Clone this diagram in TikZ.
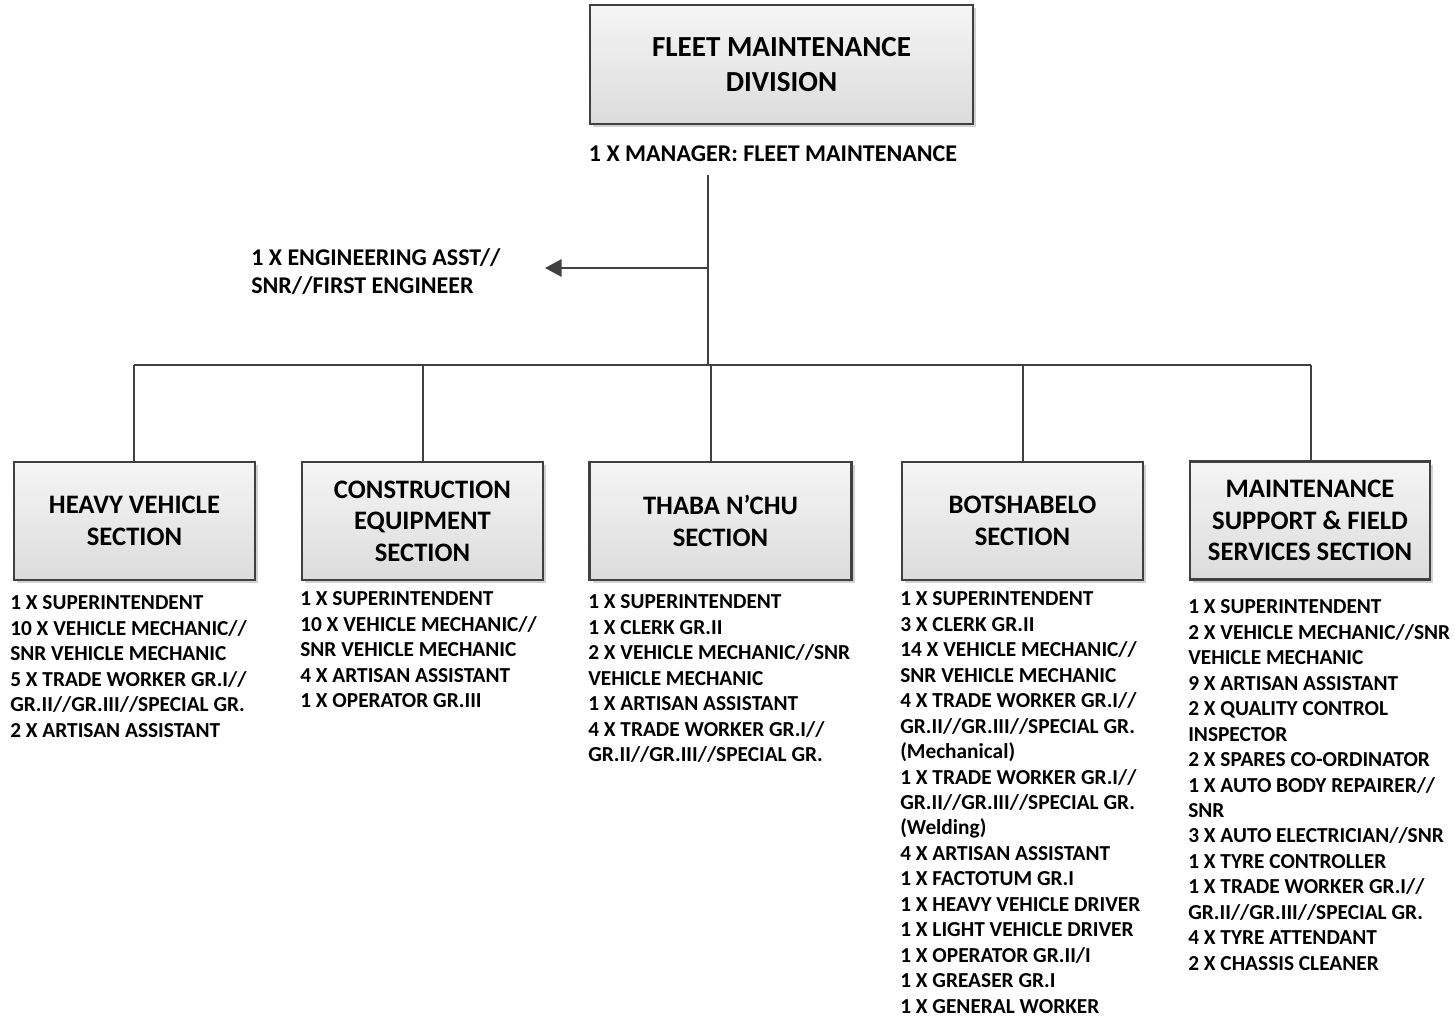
\documentclass[tikz,border=0pt]{standalone}
\usepackage{fontspec}
\setmainfont{Carlito}
\usetikzlibrary{shadows,arrows.meta}
\definecolor{linec}{HTML}{404040}
\definecolor{boxtop}{HTML}{F5F5F5}
\definecolor{boxbot}{HTML}{DCDCDC}
\begin{document}
\begin{tikzpicture}[x=0.75pt,y=-0.75pt,
  conn/.style={draw=linec,line width=1.6pt},
  secbox/.style={draw=linec,line width=1.6pt,top color=boxtop,bottom color=boxbot,
    drop shadow={shadow xshift=2.5pt,shadow yshift=-2.5pt,fill=black!18,opacity=1},
    minimum height=88.5pt,align=center,inner sep=0pt,
    font=\fontsize{20}{23.6}\selectfont\bfseries},
  listtxt/.style={anchor=north west,align=left,inner sep=0pt,
    font=\fontsize{16}{19.1}\selectfont\bfseries},
  plaintxt/.style={inner sep=0pt,font=\fontsize{18}{21}\selectfont\bfseries}]
\useasboundingbox (0,0) rectangle (1455,1019);

% top box
\node[secbox,minimum width=287.25pt,minimum height=89.25pt,
  font=\fontsize{21.8}{26.2}\selectfont\bfseries] (top) at (781.5,64.5) {FLEET MAINTENANCE\\DIVISION};
\node[plaintxt] (mgr) at (773,154) {1 X MANAGER: FLEET MAINTENANCE};

% section boxes
\node[secbox,minimum width=180.75pt] (heavy) at (134.5,521) {HEAVY VEHICLE\\SECTION};
\node[secbox,minimum width=180.75pt] (constr) at (422.5,521) {CONSTRUCTION\\EQUIPMENT\\SECTION};
\node[secbox,minimum width=196.5pt] (thaba) at (720.5,521) {THABA N’CHU\\SECTION};
\node[secbox,minimum width=180.75pt] (botsh) at (1022.5,521) {BOTSHABELO\\SECTION};
\node[secbox,minimum width=180pt] (maint) at (1310,520.5) {MAINTENANCE\\SUPPORT \& FIELD\\SERVICES SECTION};

% engineering assistant
\node[listtxt,font=\fontsize{18}{21}\selectfont\bfseries] (eng) at (251,248) {1 X ENGINEERING ASST//\\SNR//FIRST ENGINEER};

% coordinates
\coordinate (trunktop) at (708,175);
\coordinate (engj) at (708,268);
\coordinate (engtip) at (545,268);
\coordinate (junc) at (708,365);
\coordinate (d1) at (134,365);
\coordinate (d2) at (423,365);
\coordinate (d3) at (711,365);
\coordinate (d4) at (1023,365);
\coordinate (d5) at (1311,365);

% connectors
\draw[conn] (trunktop) -- (junc);
\draw[conn,-{Triangle[length=12.5pt,width=13pt]}] (engj) -- (engtip);
\draw[conn] (d1) -- (d5);
\draw[conn] (d1) -- (d1 |- heavy.north);
\draw[conn] (d2) -- (d2 |- constr.north);
\draw[conn] (d3) -- (d3 |- thaba.north);
\draw[conn] (d4) -- (d4 |- botsh.north);
\draw[conn] (d5) -- (d5 |- maint.north);

% staff lists
\node[listtxt] (heavyl) at (10,595.5) {1 X SUPERINTENDENT\\10 X VEHICLE MECHANIC//\\SNR VEHICLE MECHANIC\\5 X TRADE WORKER GR.I//\\GR.II//GR.III//SPECIAL GR.\\2 X ARTISAN ASSISTANT};
\node[listtxt] (constrl) at (300,591.5) {1 X SUPERINTENDENT\\10 X VEHICLE MECHANIC//\\SNR VEHICLE MECHANIC\\4 X ARTISAN ASSISTANT\\1 X OPERATOR GR.III};
\node[listtxt] (thabal) at (588,594.5) {1 X SUPERINTENDENT\\1 X CLERK GR.II\\2 X VEHICLE MECHANIC//SNR\\VEHICLE MECHANIC\\1 X ARTISAN ASSISTANT\\4 X TRADE WORKER GR.I//\\GR.II//GR.III//SPECIAL GR.};
\node[listtxt] (botshl) at (900,591.5) {1 X SUPERINTENDENT\\3 X CLERK GR.II\\14 X VEHICLE MECHANIC//\\SNR VEHICLE MECHANIC\\4 X TRADE WORKER GR.I//\\GR.II//GR.III//SPECIAL GR.\\(Mechanical)\\1 X TRADE WORKER GR.I//\\GR.II//GR.III//SPECIAL GR.\\(Welding)\\4 X ARTISAN ASSISTANT\\1 X FACTOTUM GR.I\\1 X HEAVY VEHICLE DRIVER\\1 X LIGHT VEHICLE DRIVER\\1 X OPERATOR GR.II/I\\1 X GREASER GR.I\\1 X GENERAL WORKER};
\node[listtxt] (maintl) at (1188,599.5) {1 X SUPERINTENDENT\\2 X VEHICLE MECHANIC//SNR\\VEHICLE MECHANIC\\9 X ARTISAN ASSISTANT\\2 X QUALITY CONTROL\\INSPECTOR\\2 X SPARES CO-ORDINATOR\\1 X AUTO BODY REPAIRER//\\SNR\\3 X AUTO ELECTRICIAN//SNR\\1 X TYRE CONTROLLER\\1 X TRADE WORKER GR.I//\\GR.II//GR.III//SPECIAL GR.\\4 X TYRE ATTENDANT\\2 X CHASSIS CLEANER};
\end{tikzpicture}
\end{document}
